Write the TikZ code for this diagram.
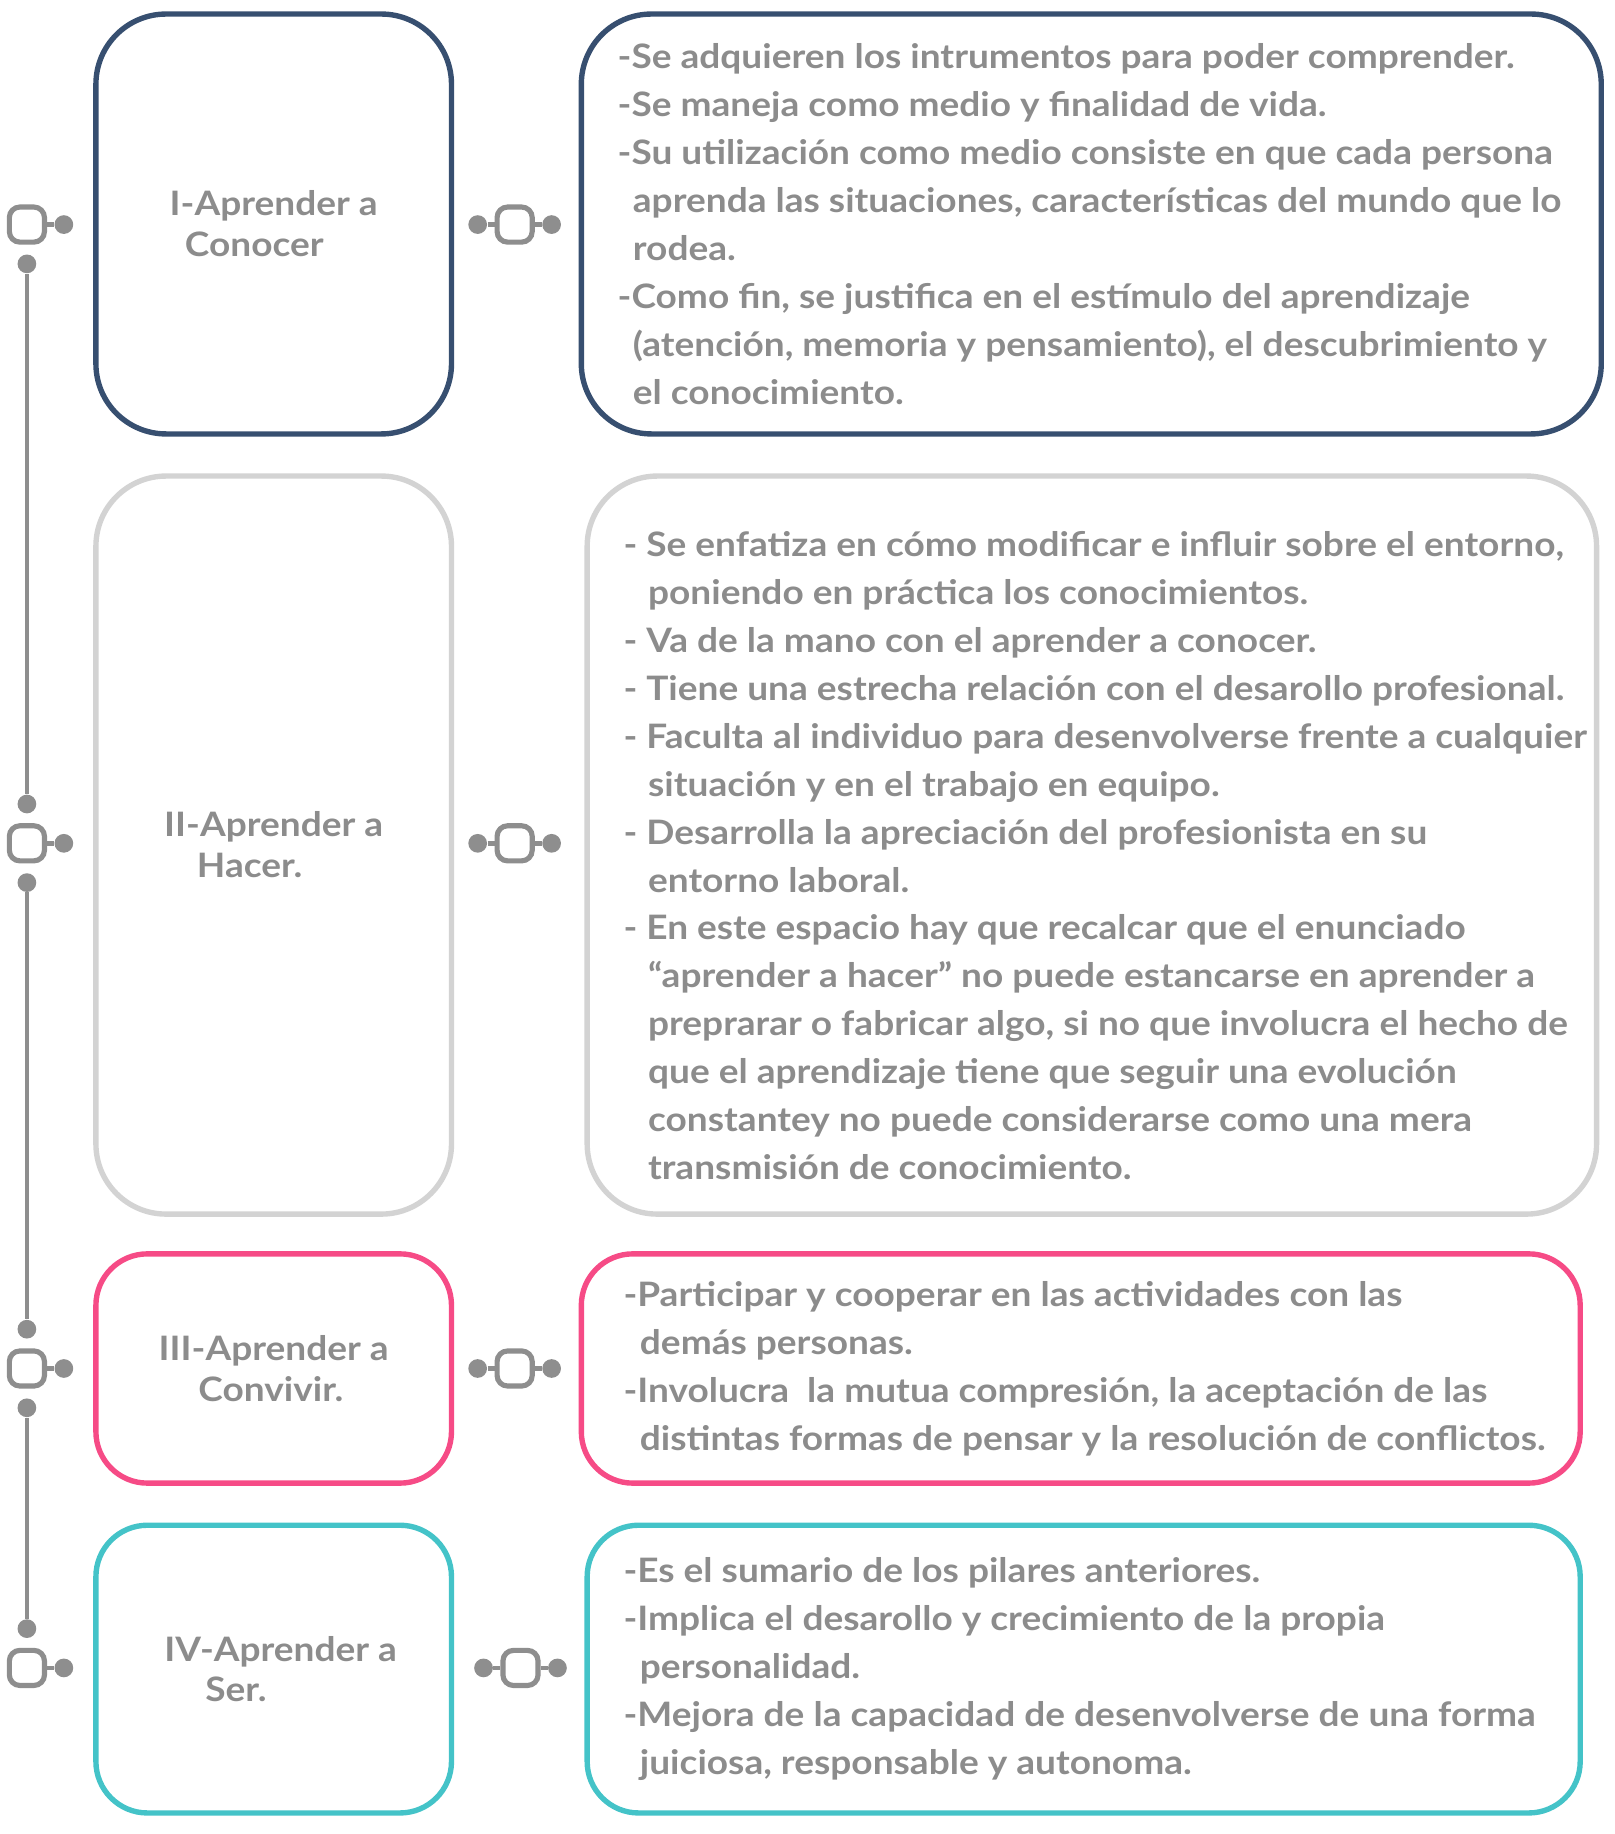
\documentclass[tikz,border=0pt]{standalone}
\usepackage{fontspec}
\setmainfont{Lato}[FakeStretch=1.1]
\usetikzlibrary{positioning}
\definecolor{azul}{HTML}{374F70}
\definecolor{claro}{HTML}{D3D3D3}
\definecolor{rosa}{HTML}{F64B86}
\definecolor{turquesa}{HTML}{44C3C8}
\definecolor{gris}{HTML}{8E8E8E}
\definecolor{texto}{HTML}{8C8C8C}

\begin{document}
\begin{tikzpicture}[x=0.5pt,y=-0.5pt,
  caja/.style={draw, line width=2.3pt, rounded corners=30pt, minimum width=152pt, inner sep=0pt,
    text=texto, align=left, font=\fontsize{14.4}{17.5}\selectfont\bfseries},
  ancha/.style={caja, font=\relax},
  lista/.style={text=texto, align=left, inner sep=0pt, font=\fontsize{14.4}{20.5}\selectfont\bfseries},
  marco/.style={draw=gris, line width=2.2pt, rounded corners=4.5pt, minimum size=15pt, inner sep=0pt},
  punto/.style={circle, fill=gris, minimum size=8pt, inner sep=0pt},
  enlace/.style={draw=gris, line width=1.9pt}]
\useasboundingbox (0,0) rectangle (1380,1568);

% columna izquierda
\node[caja, draw=azul, minimum height=179.5pt] (l1) at (234,191.5) {I-Aprender a\\\hspace*{6.5pt}Conocer};
\node[caja, draw=claro, minimum height=315.5pt] (l2) at (234,722.5) {II-Aprender a\\\hspace*{14pt}Hacer.};
\node[caja, draw=rosa, rounded corners=22pt, minimum height=98pt] (l3) at (234,1170) {III-Aprender a\\\hspace*{17pt}Convivir.};
\node[caja, draw=turquesa, rounded corners=22pt, minimum height=123pt] (l4) at (234,1427) {\hspace*{6pt}IV-Aprender a\\\hspace*{23.5pt}Ser.};

% columna derecha
\node[ancha, draw=azul, minimum width=436pt, minimum height=179.5pt] (r1) at (933,191.5) {};
\node[ancha, draw=claro, minimum width=431.5pt, minimum height=315.5pt] (r2) at (933.5,722.5) {};
\node[ancha, draw=rosa, rounded corners=22pt, minimum width=427pt, minimum height=98pt] (r3) at (924,1170) {};
\node[ancha, draw=turquesa, rounded corners=22pt, minimum width=424.5pt, minimum height=123pt] (r4) at (926.5,1427) {};

\node[lista, right=16.5pt of r1.west] (t1) {-Se adquieren los intrumentos para poder comprender.\\
-Se maneja como medio y finalidad de vida.\\
-Su utilización como medio consiste en que cada persona\\
\hspace*{6.5pt}aprenda las situaciones, características del mundo que lo\\
\hspace*{6.5pt}rodea.\\
-Como fin, se justifica en el estímulo del aprendizaje\\
\hspace*{6.5pt}(atención, memoria y pensamiento), el descubrimiento y\\
\hspace*{6.5pt}el conocimiento.};
\node[lista, right=16.5pt of r2.west, yshift=-4.5pt] (t2) {- Se enfatiza en cómo modificar e influir sobre el entorno,\\
\hspace*{10.5pt}poniendo en práctica los conocimientos.\\
- Va de la mano con el aprender a conocer.\\
- Tiene una estrecha relación con el desarollo profesional.\\
- Faculta al individuo para desenvolverse frente a cualquier\\
\hspace*{10.5pt}situación y en el trabajo en equipo.\\
- Desarrolla la apreciación del profesionista en su\\
\hspace*{10.5pt}entorno laboral.\\
- En este espacio hay que recalcar que el enunciado\\
\hspace*{10.5pt}“aprender a hacer” no puede estancarse en aprender a\\
\hspace*{10.5pt}preprarar o fabricar algo, si no que involucra el hecho de\\
\hspace*{10.5pt}que el aprendizaje tiene que seguir una evolución\\
\hspace*{10.5pt}constantey no puede considerarse como una mera\\
\hspace*{10.5pt}transmisión de conocimiento.};
\node[lista, right=19pt of r3.west] (t3) {-Participar y cooperar en las actividades con las\\
\hspace*{7pt}demás personas.\\
-Involucra\ \ la mutua compresión, la aceptación de las\\
\hspace*{7pt}distintas formas de pensar y la resolución de conflictos.};
\node[lista, right=16.5pt of r4.west] (t4) {-Es el sumario de los pilares anteriores.\\
-Implica el desarollo y crecimiento de la propia\\
\hspace*{7pt}personalidad.\\
-Mejora de la capacidad de desenvolverse de una forma\\
\hspace*{7pt}juiciosa, responsable y autonoma.};

% conectores
\foreach \n/\y in {1/192,2/721,3/1170,4/1426}{
  \node[marco] (ci\n) at (23,\y) {};
  \node[punto, right=3pt of ci\n] (pi\n) {};
  \draw[enlace] (ci\n) -- (pi\n);
}
\foreach \n/\x/\y in {1/440/192,2/440/721,3/440/1170,4/445/1426}{
  \node[marco] (cm\n) at (\x,\y) {};
  \node[punto, left=3pt of cm\n] (ma\n) {};
  \node[punto, right=3pt of cm\n] (mb\n) {};
  \draw[enlace] (ma\n) -- (cm\n) -- (mb\n);
}
\foreach \a/\b in {1/2,2/3,3/4}{
  \node[punto, below=4pt of ci\a] (bi\a) {};
  \node[punto, above=4pt of ci\b] (ai\b) {};
  \draw[enlace] (bi\a) -- (ai\b);
}
\end{tikzpicture}
\end{document}
